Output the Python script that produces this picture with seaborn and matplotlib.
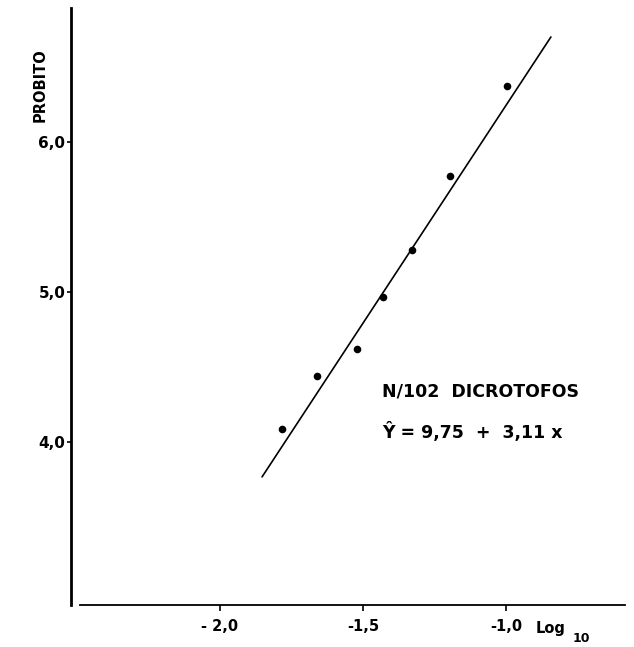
import matplotlib
matplotlib.use("Agg")
import matplotlib.pyplot as plt
import seaborn as sns
import pandas as pd

# Data
log_dose = [-1.783, -1.661, -1.521, -1.430, -1.329, -1.196, -0.997]
probit = [4.087, 4.44, 4.62, 4.967, 5.28, 5.773, 6.373]
line_x = [-1.853, -0.843]
line_y = [3.767, 6.70]
x_ticks = [-2.0, -1.5, -1.0]
x_tick_labels = ["- 2,0", "-1,5", "-1,0"]
y_ticks = [4.0, 5.0, 6.0]
y_tick_labels = ["4,0", "5,0", "6,0"]
title_line1 = "N/102  DICROTOFOS"
title_line2 = "Ŷ = 9,75  +  3,11 x"

sns.set_theme(style="white")
plt.rcParams['font.family'] = ['DejaVu Sans']
plt.rcParams['text.color'] = 'black'

fig = plt.figure(figsize=(6.34, 6.47), dpi=100)
ax = fig.add_axes([71/634, 1-605/647, (625-71)/634, (605-8)/647])

pts = pd.DataFrame({"x": log_dose, "y": probit})
ln = pd.DataFrame({"x": line_x, "y": line_y})
sns.lineplot(data=ln, x="x", y="y", ax=ax, color="black", linewidth=1.2)
sns.scatterplot(data=pts, x="x", y="y", ax=ax, color="black", s=30,
                edgecolor="black", linewidth=0, zorder=3)

ax.set_xlim(-2.521, -0.584)
ax.set_ylim(2.913, 6.893)
ax.set_xticks(x_ticks)
ax.set_xticklabels(x_tick_labels, fontsize=10.5, fontweight="bold", color="black")
ax.set_yticks(y_ticks)
ax.set_yticklabels(y_tick_labels, fontsize=11, fontweight="bold", color="black")
ax.set_xlabel("")
ax.set_ylabel("")

for s in ["top", "right"]:
    ax.spines[s].set_visible(False)
ax.spines["left"].set_linewidth(2.0)
ax.spines["left"].set_color("black")
ax.spines["bottom"].set_linewidth(1.3)
ax.spines["bottom"].set_color("black")
ax.spines["bottom"].set_bounds(-2.49, -0.584)
ax.tick_params(axis="y", direction="out", length=3, width=1.2,
               colors="black", left=True, pad=1)
ax.tick_params(axis="x", direction="out", length=4, width=1.2,
               colors="black", bottom=True, pad=6)

fig.text(40/634, 1-85/647, "PROBITO", rotation=90, ha="center", va="center",
         fontsize=10.5, fontweight="bold", color="black")
fig.text(536/634, 1-628/647, "Log", ha="left", va="center",
         fontsize=10.5, fontweight="bold", color="black")
fig.text(573/634, 1-639/647, "10", ha="left", va="center",
         fontsize=9, fontweight="bold", color="black")

fig.text(382/634, 1-392/647, title_line1, ha="left", va="center",
         fontsize=12.5, fontweight="bold", color="black")
fig.text(382/634, 1-432/647, title_line2, ha="left", va="center",
         fontsize=12.5, fontweight="bold", color="black")

fig.savefig("out.png", dpi=100, facecolor="white")
